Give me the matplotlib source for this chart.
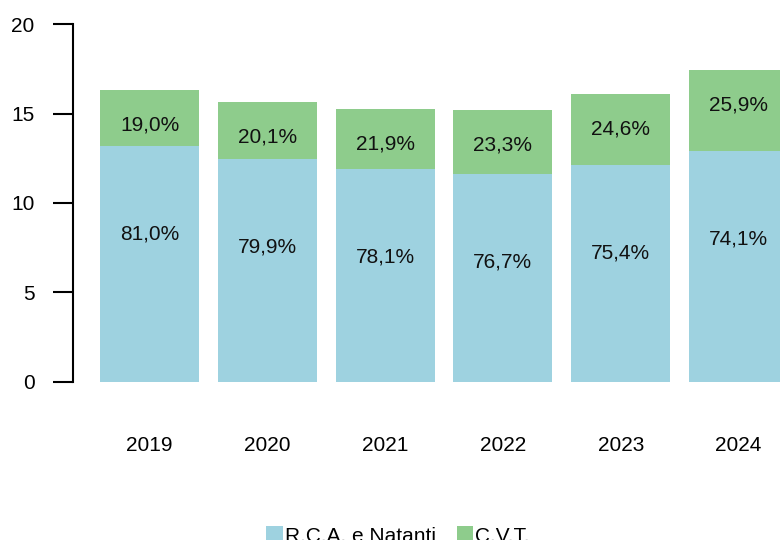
import matplotlib
matplotlib.use("Agg")
import matplotlib.pyplot as plt

plt.rcParams['font.family'] = ['Liberation Sans', 'DejaVu Sans']

# data
years = ['2019', '2020', '2021', '2022', '2023', '2024']
rca_values = [13.21, 12.46, 11.90, 11.62, 12.13, 12.91]
cvt_values = [3.11, 3.19, 3.36, 3.59, 3.96, 4.53]
rca_pct = ['81,0%', '79,9%', '78,1%', '76,7%', '75,4%', '74,1%']
cvt_pct = ['19,0%', '20,1%', '21,9%', '23,3%', '24,6%', '25,9%']

blue = '#9ed2e0'
green = '#8ecc8c'

fig = plt.figure(figsize=(7.8, 5.4), dpi=100)
ax = fig.add_axes([73.3 / 780, 1 - 381.7 / 540, 1 - 73.3 / 780, 357.4 / 540])

x = list(range(len(years)))
ax.bar(x, rca_values, width=0.84, color=blue, label='R.C.A. e Natanti')
ax.bar(x, cvt_values, width=0.84, bottom=rca_values, color=green, label='C.V.T.')

# labels sit a fixed distance below the top of each segment
for i in x:
    top_rca = rca_values[i]
    top_all = rca_values[i] + cvt_values[i]
    ax.annotate(rca_pct[i], (i, top_rca), xytext=(0, -88), textcoords='offset pixels',
                ha='center', va='center', fontsize=15, color='#111111')
    ax.annotate(cvt_pct[i], (i, top_all), xytext=(0, -35), textcoords='offset pixels',
                ha='center', va='center', fontsize=15, color='#111111')

ax.set_xlim(-0.647, 5.352)
ax.set_ylim(0, 20)
ax.set_yticks([0, 5, 10, 15, 20])
ax.set_xticks(x)
ax.set_xticklabels(years)

for s in ['top', 'right', 'bottom']:
    ax.spines[s].set_visible(False)
ax.spines['left'].set_linewidth(1.5)
ax.tick_params(axis='y', length=14.4, width=1.5, pad=13.5, labelsize=15)
ax.tick_params(axis='x', length=0, pad=39, labelsize=15)

fig.legend(loc='center', bbox_to_anchor=(398 / 780, 1 - 536 / 540), ncol=2, frameon=False,
           fontsize=15, handlelength=0.8, handleheight=0.8, handletextpad=0.1,
           columnspacing=1.0)

plt.savefig('out.png', dpi=100)
